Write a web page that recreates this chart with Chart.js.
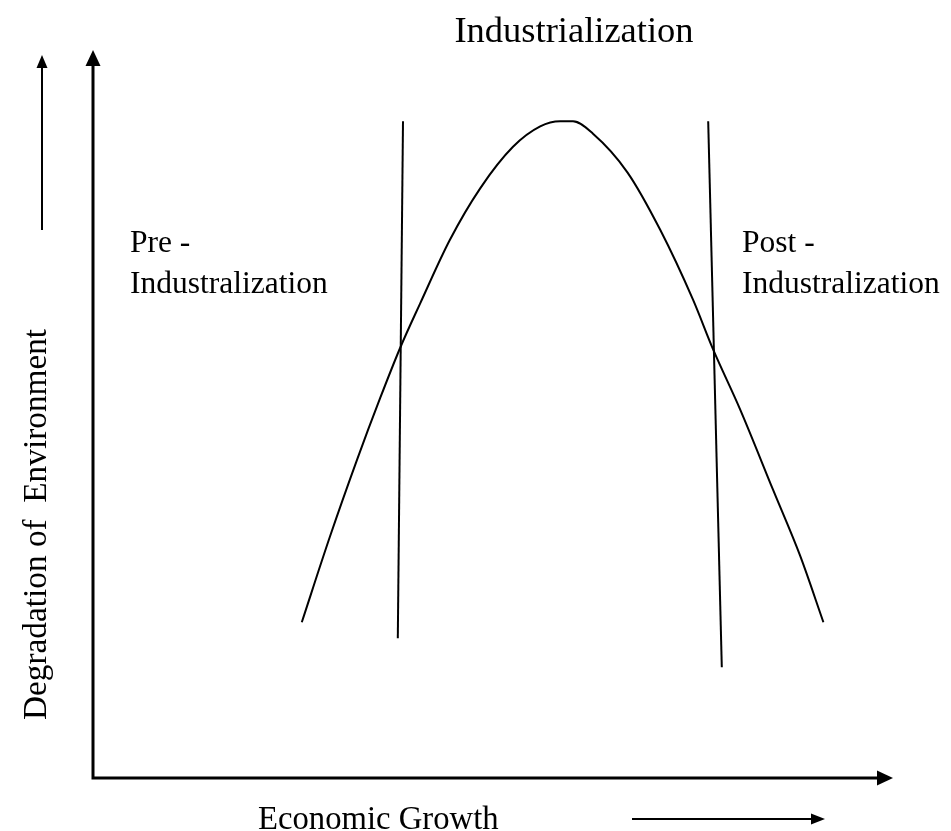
<!DOCTYPE html>
<html>
<head>
<meta charset="utf-8">
<title>Industrialization and Environment</title>
<script src="https://cdn.jsdelivr.net/npm/chart.js@4.4.1/dist/chart.umd.min.js"></script>
<style>
  html, body { margin: 0; padding: 0; background: #fff; }
  #wrap { width: 951px; height: 831px; }
</style>
</head>
<body>
<div id="wrap"><canvas id="chart" width="951" height="831"></canvas></div>
<script>
// Economic growth (x) and degradation of environment (y), 0-100 scale
const curveX = [26.1, 29.6, 33.0, 35.9, 38.4, 40.9, 44.6, 48.4, 52.5, 55.9, 58.4, 60.0, 62.5, 66.8, 70.9, 75.0, 77.5, 80.9, 85.0, 88.4, 91.3];
const curveY = [21.4, 33.1, 43.7, 52.2, 59.1, 65.2, 73.9, 81.0, 86.7, 89.5, 90.2, 90.2, 88.5, 83.2, 75.3, 65.7, 58.9, 50.6, 39.6, 30.5, 21.4];

// boundaries between the stages
const preBoundX = [38.75, 38.1];
const preBoundY = [90.2, 19.2];
const postBoundX = [76.9, 78.6];
const postBoundY = [90.2, 15.2];

const titleText = "Industrialization";
const xTitle = "Economic Growth";
const yTitle = "Degradation of  Environment";
const preLabel = ["Pre -", "Industralization"];
const postLabel = ["Post -", "Industralization"];

function toPoints(xs, ys) {
    return xs.map((x, i) => ({ x: x, y: ys[i] }));
}

function arrowHead(ctx, x, y, dir, len, half) {
    ctx.beginPath();
    if (dir === "up") {
        ctx.moveTo(x, y);
        ctx.lineTo(x - half, y + len);
        ctx.lineTo(x + half, y + len);
    } else {
        ctx.moveTo(x, y);
        ctx.lineTo(x - len, y - half);
        ctx.lineTo(x - len, y + half);
    }
    ctx.closePath();
    ctx.fill();
}

// axes with arrows and all the text
const decor = {
    id: "decor",
    beforeDatasetsDraw(chart) {
        const ctx = chart.ctx;
        const a = chart.chartArea;
        ctx.save();
        ctx.strokeStyle = "#000";
        ctx.fillStyle = "#000";
        ctx.lineWidth = 3;
        ctx.beginPath();
        ctx.moveTo(a.left, a.top + 10);
        ctx.lineTo(a.left, a.bottom);
        ctx.lineTo(a.right - 10, a.bottom);
        ctx.stroke();
        arrowHead(ctx, a.left, a.top, "up", 16, 7.5);
        arrowHead(ctx, a.right, a.bottom, "right", 16, 7.5);
        ctx.restore();
    },
    afterDatasetsDraw(chart) {
        const ctx = chart.ctx;
        ctx.save();
        ctx.fillStyle = "#000";
        ctx.strokeStyle = "#000";
        ctx.textBaseline = "alphabetic";

        ctx.font = "36.5px 'Liberation Serif', 'Times New Roman', serif";
        ctx.textAlign = "center";
        ctx.fillText(titleText, 574, 42);

        ctx.font = "31.5px 'Liberation Serif', 'Times New Roman', serif";
        ctx.textAlign = "left";
        ctx.fillText(preLabel[0], 130, 252);
        ctx.fillText(preLabel[1], 130, 293);
        ctx.fillText(postLabel[0], 742, 252);
        ctx.fillText(postLabel[1], 742, 293);

        ctx.font = "32.7px 'Liberation Serif', 'Times New Roman', serif";
        ctx.fillText(xTitle, 258, 829);

        ctx.save();
        ctx.translate(46, 720);
        ctx.rotate(-Math.PI / 2);
        ctx.textAlign = "left";
        ctx.font = "33.3px 'Liberation Serif', 'Times New Roman', serif";
        ctx.fillText(yTitle, 0, 0);
        ctx.restore();

        // small direction arrows next to the axis titles
        ctx.lineWidth = 2;
        ctx.beginPath();
        ctx.moveTo(42, 230);
        ctx.lineTo(42, 66);
        ctx.stroke();
        arrowHead(ctx, 42, 55, "up", 13, 5.5);

        ctx.beginPath();
        ctx.moveTo(632, 819);
        ctx.lineTo(814, 819);
        ctx.stroke();
        arrowHead(ctx, 825, 819, "right", 14, 5.5);
        ctx.restore();
    }
};

const lineStyle = {
    showLine: true,
    borderColor: "#000",
    borderWidth: 2,
    pointRadius: 0,
    fill: false
};

new Chart(document.getElementById("chart"), {
    type: "scatter",
    data: {
        datasets: [
            Object.assign({ label: "Curve", data: toPoints(curveX, curveY), tension: 0.4, cubicInterpolationMode: "monotone" }, lineStyle),
            Object.assign({ label: "Pre", data: toPoints(preBoundX, preBoundY), tension: 0 }, lineStyle),
            Object.assign({ label: "Post", data: toPoints(postBoundX, postBoundY), tension: 0 }, lineStyle)
        ]
    },
    options: {
        responsive: false,
        animation: false,
        layout: { padding: { left: 93, right: 58, top: 50, bottom: 53 } },
        scales: {
            x: { type: "linear", min: 0, max: 100, display: false },
            y: { type: "linear", min: 0, max: 100, display: false }
        },
        plugins: {
            legend: { display: false },
            tooltip: { enabled: false }
        }
    },
    plugins: [decor]
});
</script>
</body>
</html>
